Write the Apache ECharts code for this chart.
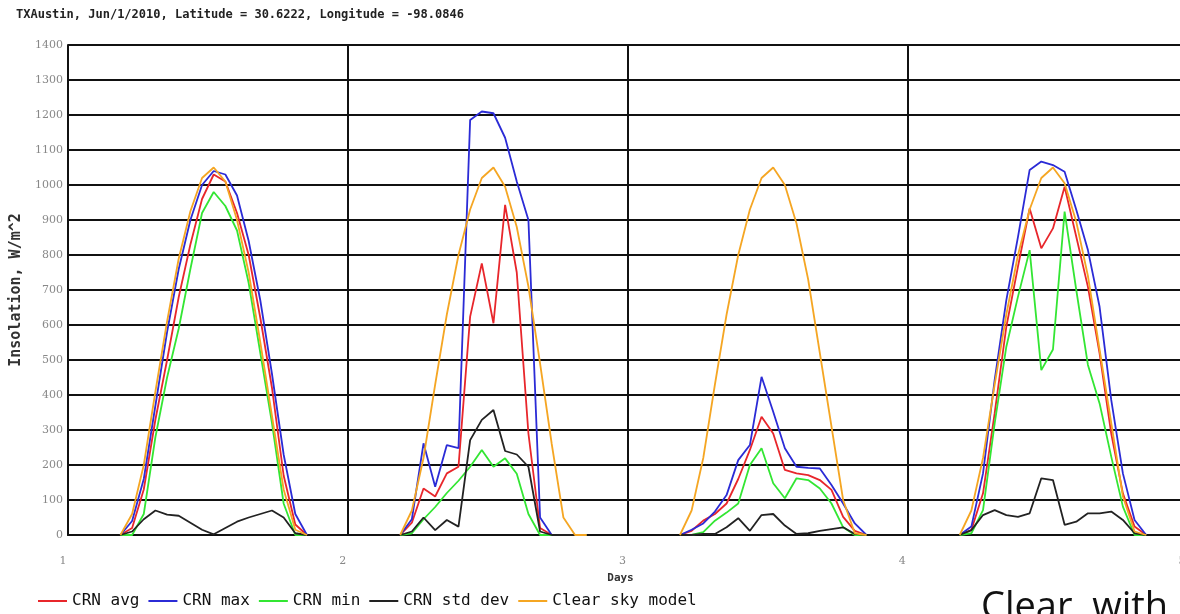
<!DOCTYPE html>
<html>
<head>
<meta charset="utf-8">
<script src="https://cdn.jsdelivr.net/npm/echarts@6/dist/echarts.min.js"></script>
<style>
html,body{margin:0;padding:0;background:#fff;}
#chart{width:1180px;height:614px;}
</style>
</head>
<body>
<div id="chart"></div>
<script>
// Hour-of-day sample positions (half-hour centred hourly samples)
const HOURS = [4.5, 5.5, 6.5, 7.5, 8.5, 9.5, 10.5, 11.5, 12.5, 13.5, 14.5, 15.5, 16.5, 17.5, 18.5, 19.5, 20.5];
const DAYS = [1, 2, 3, 4];
const X_TICKS = [1, 2, 3, 4, 5];
const SERIES_NAMES = ['CRN avg', 'CRN max', 'CRN min', 'CRN std dev', 'Clear sky model'];

// Values per day (W/m^2), one row per day
const CRN_AVG = [
  [0, 20, 130, 330, 500, 680, 830, 960, 1030, 1010, 920, 800, 620, 420, 170, 30, 0],
  [0, 35, 133, 110, 176, 195, 624, 776, 605, 943, 750, 290, 20, 0, 0, 0, 0],
  [0, 12, 41, 60, 90, 160, 243, 338, 290, 186, 176, 171, 157, 129, 52, 12, 0],
  [0, 14, 119, 348, 595, 767, 933, 819, 876, 995, 852, 709, 519, 290, 119, 24, 0]
];
const CRN_MAX = [
  [0, 40, 160, 370, 580, 760, 900, 1000, 1040, 1030, 970, 840, 670, 460, 230, 60, 0],
  [0, 45, 262, 138, 257, 248, 1186, 1210, 1205, 1135, 1010, 900, 50, 0, 0, 0, 0],
  [0, 15, 33, 67, 114, 214, 257, 452, 352, 248, 195, 192, 190, 143, 90, 33, 0],
  [0, 24, 176, 443, 671, 852, 1043, 1067, 1057, 1038, 929, 814, 652, 386, 176, 43, 0]
];
const CRN_MIN = [
  [0, 0, 60, 280, 450, 590, 760, 920, 980, 940, 870, 720, 520, 320, 90, 0, 0],
  [0, 5, 45, 80, 120, 155, 195, 243, 195, 219, 175, 60, 0, 0, 0, 0, 0],
  [0, 0, 8, 41, 64, 90, 200, 248, 148, 105, 162, 157, 133, 90, 22, 0, 0],
  [0, 5, 71, 319, 538, 681, 814, 471, 530, 924, 700, 486, 376, 224, 81, 0, 0]
];
const CRN_STD = [
  [0, 10, 45, 70, 58, 55, 35, 15, 2, 20, 38, 50, 60, 70, 50, 5, 0],
  [0, 10, 50, 14, 43, 24, 271, 329, 357, 240, 230, 195, 10, 0, 0, 0, 0],
  [0, 0, 3, 3, 22, 48, 12, 57, 60, 27, 3, 5, 12, 17, 22, 3, 0],
  [0, 14, 57, 71, 57, 52, 62, 162, 157, 29, 38, 62, 62, 67, 43, 5, 0]
];
const CLEAR_SKY = [
  [0, 60, 200, 410, 610, 790, 925, 1020, 1050, 1010, 900, 750, 550, 340, 130, 15, 0],
  [0, 70, 220, 430, 630, 800, 930, 1020, 1050, 995, 880, 710, 490, 260, 50, 0, 0],
  [0, 70, 220, 430, 630, 800, 930, 1020, 1050, 1000, 890, 730, 520, 310, 100, 5, 0],
  [0, 70, 220, 430, 630, 800, 930, 1020, 1050, 1005, 895, 740, 530, 320, 110, 10, 0]
];
const COLORS = ['#e8262b', '#2b2bd6', '#33e633', '#222222', '#f5a623'];

function build(rows) {
  const out = [];
  DAYS.forEach((d, di) => {
    HOURS.forEach((h, i) => out.push([d + h / 24, rows[di][i]]));
    out.push([d + 0.95, null]);
  });
  return out;
}

const chart = echarts.init(document.getElementById('chart'), null, {renderer: 'canvas'});
const gridColor = '#111';
const sets = [CRN_AVG, CRN_MAX, CRN_MIN, CRN_STD, CLEAR_SKY];

chart.setOption({
  animation: false,
  backgroundColor: '#fff',
  title: {
    text: 'TXAustin, Jun/1/2010, Latitude = 30.6222, Longitude = -98.0846',
    left: 11, top: 4,
    textStyle: {fontFamily: 'DejaVu Sans Mono', fontSize: 12, fontWeight: 'bold', color: '#222'}
  },
  legend: {
    data: SERIES_NAMES,
    left: 33, top: 588,
    icon: 'rect', itemWidth: 29, itemHeight: 2, itemGap: 9,
    textStyle: {fontFamily: 'DejaVu Sans Mono', fontSize: 16, color: '#111'}
  },
  grid: {left: 68, top: 45, width: 1119, height: 490, outerBoundsMode: 'none', containLabel: false},
  xAxis: {
    type: 'value', min: 1, max: 5, interval: 1,
    name: 'Days', nameLocation: 'middle', nameGap: 38,
    nameTextStyle: {fontFamily: 'DejaVu Sans Mono', fontSize: 11, fontWeight: 'bold', color: '#333', padding: [0, 14, 0, 0]},
    axisLine: {show: true, lineStyle: {color: gridColor, width: 2}},
    axisTick: {show: false},
    axisLabel: {margin: 21, fontFamily: 'DejaVu Serif', fontSize: 11, color: '#888', padding: [0, 10, 0, 0],
      formatter: v => X_TICKS.includes(v) ? String(v) : ''},
    splitLine: {show: true, lineStyle: {color: gridColor, width: 2}}
  },
  yAxis: {
    type: 'value', min: 0, max: 1400, interval: 100,
    name: 'Insolation, W/m^2', nameLocation: 'middle', nameGap: 43, nameRotate: 90,
    nameTextStyle: {fontFamily: 'DejaVu Sans Mono', fontSize: 15, fontWeight: 'bold', color: '#333'},
    axisLine: {show: true, lineStyle: {color: gridColor, width: 2}},
    axisTick: {show: false},
    axisLabel: {margin: 5, fontFamily: 'DejaVu Serif', fontSize: 11, color: '#888', formatter: v => String(v)},
    splitLine: {show: true, lineStyle: {color: gridColor, width: 2}}
  },
  graphic: [{
    type: 'text', left: 981, top: 589, z: 100,
    style: {text: 'Clear, with', font: '38px "Open Sans"', fill: '#111'}
  }],
  series: sets.map((rows, i) => ({
    name: SERIES_NAMES[i],
    type: 'line',
    data: build(rows),
    showSymbol: false,
    symbol: 'none',
    connectNulls: false,
    color: COLORS[i],
    lineStyle: {color: COLORS[i], width: 1.8},
    z: 3 + i
  }))
});
</script>
</body>
</html>
